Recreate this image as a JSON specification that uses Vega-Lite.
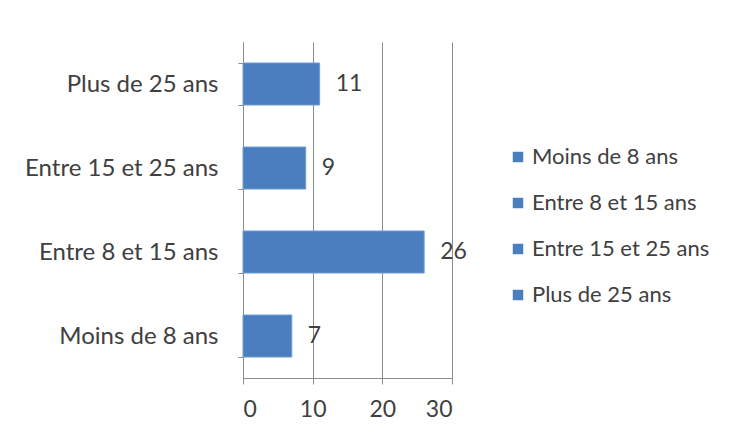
{
  "$schema": "https://vega.github.io/schema/vega-lite/v6.json",
  "autosize": {"type": "none"},
  "width": 209,
  "height": 336,
  "padding": {"left": 243, "top": 42, "right": 283, "bottom": 58},
  "background": "white",
  "data": {"values": [
    {"cat": "Moins de 8 ans", "n": 7},
    {"cat": "Entre 8 et 15 ans", "n": 26},
    {"cat": "Entre 15 et 25 ans", "n": 9},
    {"cat": "Plus de 25 ans", "n": 11}
  ]},
  "config": {
    "view": {"stroke": null},
    "font": "Lato",
    "axis": {"labelFont": "Lato", "labelColor": "#404040", "domainColor": "#8c8c8c", "tickColor": "#8c8c8c", "gridColor": "#8c8c8c"}
  },
  "layer": [
    {
      "mark": {"type": "bar", "color": "#4a7ebf", "stroke": "#6f9bd1", "strokeWidth": 1},
      "encoding": {
        "y": {"field": "cat", "type": "nominal", "sort": ["Plus de 25 ans", "Entre 15 et 25 ans", "Entre 8 et 15 ans", "Moins de 8 ans"],
              "scale": {"paddingInner": 0.5, "paddingOuter": 0.25},
              "axis": {"title": null, "tickBand": "extent", "tickSize": 5, "labelFontSize": 24, "labelPadding": 20, "labelLimit": 300, "grid": false, "domainWidth": 1}},
        "x": {"field": "n", "type": "quantitative", "scale": {"domain": [0, 30]},
              "axis": {"title": null, "values": [0, 10, 20, 30], "tickSize": 6, "labelFontSize": 23, "labelPadding": 14, "grid": true}},
        "color": {"field": "cat", "type": "nominal",
                  "scale": {"domain": ["Moins de 8 ans", "Entre 8 et 15 ans", "Entre 15 et 25 ans", "Plus de 25 ans"], "range": ["#4a7ebf", "#4a7ebf", "#4a7ebf", "#4a7ebf"]},
                  "legend": {"title": null, "orient": "none", "legendX": 264, "legendY": 104, "padding": 0, "symbolType": "square", "symbolSize": 110, "symbolStrokeWidth": 0, "labelFontSize": 22, "labelColor": "#404040", "labelFont": "Lato", "labelLimit": 300, "rowPadding": 24, "labelOffset": 3}}
      }
    },
    {
      "mark": {"type": "text", "align": "left", "baseline": "middle", "dx": 16, "fontSize": 23, "color": "#404040", "font": "Lato"},
      "encoding": {
        "y": {"field": "cat", "type": "nominal", "sort": ["Plus de 25 ans", "Entre 15 et 25 ans", "Entre 8 et 15 ans", "Moins de 8 ans"]},
        "x": {"field": "n", "type": "quantitative"},
        "text": {"field": "n", "type": "quantitative"}
      }
    }
  ]
}
